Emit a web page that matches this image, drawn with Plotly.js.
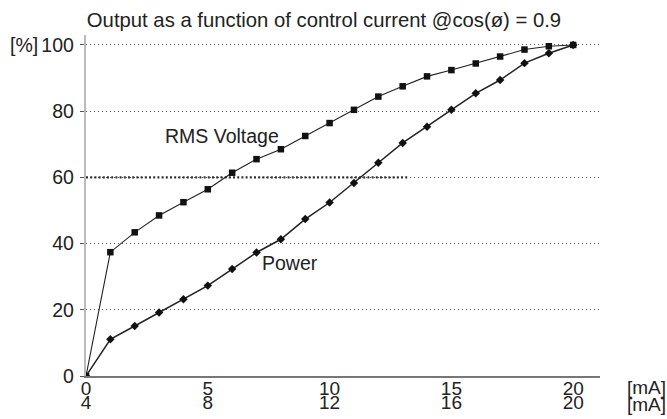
<!DOCTYPE html>
<html>
<head>
<meta charset="utf-8">
<script src="https://cdn.plot.ly/plotly-3.0.1.min.js"></script>
<style>html,body{margin:0;padding:0;background:#fff;}#chart{width:667px;height:419px;}</style>
</head>
<body>
<div id="chart"></div>
<script>
// Data
const current = [0,1,2,3,4,5,6,7,8,9,10,11,12,13,14,15,16,17,18,19,20];
const rmsVoltage = [0,37.4,43.4,48.5,52.5,56.4,61.4,65.5,68.5,72.5,76.4,80.4,84.4,87.5,90.5,92.4,94.4,96.5,98.6,99.6,100];
const power = [0,11.1,15.1,19.2,23.2,27.3,32.3,37.3,41.3,47.4,52.4,58.3,64.4,70.4,75.3,80.4,85.4,89.4,94.5,97.5,100];
const refLineX = [0, 13.2];
const refLineY = [60, 60];
const xTickVals = [0,5,10,15,20];
const xTickTop = ['0','5','10','15','20'];
const xTickBottom = ['4','8','12','16','20'];
const yTickVals = [0,20,40,60,80,100];
const yTickText = ['0','20','40','60','80','100'];

const font = 'Liberation Sans, Arial, Helvetica, sans-serif';
const txt = '#222';
const fs = 19.5;
const fx = 19;

const traces = [
  {x: refLineX, y: refLineY, mode: 'lines', line: {color: '#333', width: 2.2, dash: '2px,2.2px'}, hoverinfo: 'skip', showlegend: false},
  {x: current, y: rmsVoltage, mode: 'lines+markers', name: 'RMS Voltage',
   line: {color: '#222', width: 1.1}, marker: {symbol: 'square', size: 6.5, color: '#111'}, showlegend: false},
  {x: current, y: power, mode: 'lines+markers', name: 'Power',
   line: {color: '#222', width: 1.5}, marker: {symbol: 'diamond', size: 6.5, color: '#111'}, showlegend: false},
  {x: [0], y: [null], xaxis: 'x2', yaxis: 'y', showlegend: false, hoverinfo: 'skip'}
];

const layout = {
  width: 667, height: 419,
  margin: {l: 86, r: 67, t: 35, b: 43},
  paper_bgcolor: '#fff', plot_bgcolor: '#fff',
  font: {family: font, size: fs, color: txt},
  title: {text: 'Output as a function of control current @cos(\u00f8) = 0.9',
          font: {family: font, size: 20.3, color: txt},
          xref: 'container', x: 324/667, xanchor: 'center',
          yref: 'container', y: 1 - 19.5/419, yanchor: 'middle'},
  xaxis: {range: [0, 21.1], tickvals: xTickVals, ticktext: xTickTop,
          showgrid: false, zeroline: false, showline: true, linecolor: '#777', linewidth: 1.5,
          ticks: '', tickfont: {family: font, size: fx, color: txt}, ticklabelstandoff: -5, fixedrange: true},
  xaxis2: {overlaying: 'x', matches: 'x', anchor: 'y', side: 'bottom', range: [0, 21.1],
          tickvals: xTickVals, ticktext: xTickBottom, showgrid: false, zeroline: false, showline: false,
          ticks: '', tickfont: {family: font, size: fx, color: txt}, ticklabelstandoff: 13},
  yaxis: {range: [0, 103], tickvals: yTickVals, ticktext: yTickText,
          showgrid: true, gridcolor: '#555', gridwidth: 1, griddash: '1.3px,2.7px',
          zeroline: false, showline: true, linecolor: '#bbb', linewidth: 2.2,
          ticks: 'outside', ticklen: 4, tickcolor: '#555', tickwidth: 1,
          tickfont: {family: font, size: fs, color: txt}, ticklabelstandoff: 2},
  annotations: [
    {text: '[%]', xref: 'paper', yref: 'y', x: (24-86)/514, y: 100, xanchor: 'center', yanchor: 'middle', showarrow: false, font: {size: fs, color: txt}},
    {text: 'RMS Voltage', xref: 'x', yref: 'y', x: (221.5-86)/24.35, y: (376-136)/3.31, xanchor: 'center', yanchor: 'middle', showarrow: false, font: {size: fs, color: txt}},
    {text: 'Power', xref: 'x', yref: 'y', x: (290-86)/24.35, y: (376-263)/3.31, xanchor: 'center', yanchor: 'middle', showarrow: false, font: {size: fs, color: txt}},
    {text: '[mA]', xref: 'paper', yref: 'paper', x: (646-86)/514, y: -11/341, xanchor: 'center', yanchor: 'middle', showarrow: false, font: {size: fx, color: txt}},
    {text: '[mA]', xref: 'paper', yref: 'paper', x: (646-86)/514, y: -28/341, xanchor: 'center', yanchor: 'middle', showarrow: false, font: {size: fx, color: txt}}
  ]
};

Plotly.newPlot('chart', traces, layout, {staticPlot: true, displayModeBar: false});
</script>
</body>
</html>
